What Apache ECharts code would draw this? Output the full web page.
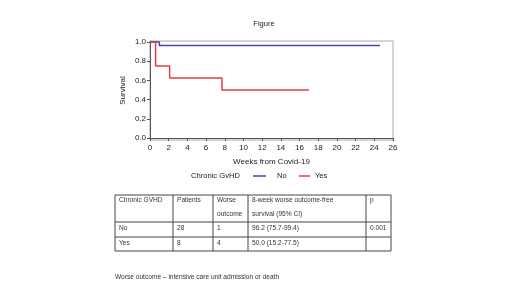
<!DOCTYPE html>
<html>
<head>
<meta charset="utf-8">
<script src="https://cdn.jsdelivr.net/npm/echarts@6/dist/echarts.min.js"></script>
<style>
  html, body { margin: 0; padding: 0; background: #fff; }
  #chart { width: 520px; height: 292px; }
</style>
</head>
<body>
<div id="chart"></div>
<script>
  // Kaplan-Meier curves (weeks, survival)
  const weeksNo = [0, 1.0, 24.6]
  const survNo = [1, 0.962, 0.962]
  const weeksYes = [0, 0.6, 2.1, 7.7, 17.0]
  const survYes = [1, 0.75, 0.625, 0.5, 0.5]
  const yTicks = [0, 0.2, 0.4, 0.6, 0.8, 1.0]

  // table below the plot
  const tableHead = [['Chronic GVHD'], ['Patients'], ['Worse', 'outcome'], ['8-week worse outcome-free', 'survival (95% CI)'], ['p']]
  const tableRows = [
    ['No', '28', '1', '96.2 (75.7-99.4)', '0.001'],
    ['Yes', '8', '4', '50.0 (15.2-77.5)', '']
  ]
  const footNote = 'Worse outcome \u2013 intensive care unit admission or death'

  const colX = [115, 173, 213, 248, 366, 391]
  const rowY = [195, 222, 237, 251]
  const tableFont = '6.6px "Liberation Sans", Arial, sans-serif'

  let graphics = []
  // grid lines of the table
  colX.forEach(function (x) {
    graphics.push({type: 'line', shape: {x1: x, y1: rowY[0], x2: x, y2: rowY[rowY.length - 1]}, style: {stroke: '#444', lineWidth: 1}})
  })
  rowY.forEach(function (y) {
    graphics.push({type: 'line', shape: {x1: colX[0], y1: y, x2: colX[colX.length - 1], y2: y}, style: {stroke: '#444', lineWidth: 1}})
  })
  tableHead.forEach(function (lines, c) {
    lines.forEach(function (t, i) {
      graphics.push({type: 'text', x: colX[c] + 4, y: rowY[0] + 5 + i * 14,
        style: {text: t, font: tableFont, fill: '#333', verticalAlign: 'middle'}})
    })
  })
  tableRows.forEach(function (row, r) {
    row.forEach(function (t, c) {
      graphics.push({type: 'text', x: colX[c] + 4, y: rowY[r + 1] + 6.5,
        style: {text: t, font: tableFont, fill: '#333', verticalAlign: 'middle'}})
    })
  })
  graphics.push({type: 'text', x: 115, y: 277, style: {text: footNote, font: tableFont, fill: '#333', verticalAlign: 'middle'}})
  graphics.push({type: 'text', x: 191, y: 176, style: {text: 'Chronic GvHD', font: '7.6px "Liberation Sans", Arial, sans-serif', fill: '#222', verticalAlign: 'middle'}})

  let myChart = echarts.init(document.getElementById('chart'))
  let axisText = {color: '#222', fontSize: 8, fontFamily: '"Liberation Sans", Arial, sans-serif'}
  let option = {
    animation: false,
    title: {
      text: 'Figure',
      left: 259,
      top: 15,
      textAlign: 'center',
      textStyle: {fontSize: 7.6, fontWeight: 'normal', color: '#222', fontFamily: '"Liberation Sans", Arial, sans-serif'}
    },
    grid: {
      left: 150,
      top: 41,
      width: 243,
      height: 99,
      show: true,
      borderColor: '#aaa',
      borderWidth: 1
    },
    legend: [
      {
        data: ['No'], left: 253, top: 172, padding: 0, icon: 'rect', itemWidth: 13, itemHeight: 1.5,
        textStyle: {color: '#222', fontSize: 7.6, padding: [0, 0, 0, 6], fontFamily: '"Liberation Sans", Arial, sans-serif'}
      },
      {
        data: ['Yes'], left: 299, top: 172, padding: 0, icon: 'rect', itemWidth: 11, itemHeight: 1.5,
        textStyle: {color: '#222', fontSize: 7.6, fontFamily: '"Liberation Sans", Arial, sans-serif'}
      }
    ],
    xAxis: {
      type: 'value',
      min: 0,
      max: 26,
      interval: 2,
      name: 'Weeks from Covid-19',
      nameLocation: 'middle',
      nameGap: 18,
      nameTextStyle: axisText,
      axisLine: {lineStyle: {color: '#555'}},
      axisTick: {length: 3, lineStyle: {color: '#555'}},
      axisLabel: Object.assign({margin: 4}, axisText),
      splitLine: {show: false}
    },
    yAxis: {
      type: 'value',
      min: -0.02,
      max: 1.01,
      name: 'Survival',
      nameLocation: 'middle',
      nameGap: 23,
      nameTextStyle: axisText,
      axisLine: {show: true, lineStyle: {color: '#555'}},
      axisTick: {show: true, length: 3, customValues: yTicks, lineStyle: {color: '#555'}},
      axisLabel: Object.assign({margin: 4, customValues: yTicks, formatter: function (v) { return v.toFixed(1) }}, axisText),
      splitLine: {show: false}
    },
    series: [
      {
        name: 'No',
        type: 'line',
        step: 'end',
        symbol: 'none',
        color: '#4343c4',
        lineStyle: {width: 1.5},
        data: weeksNo.map(function (w, i) { return [w, survNo[i]] })
      },
      {
        name: 'Yes',
        type: 'line',
        step: 'end',
        symbol: 'none',
        color: '#e2403f',
        lineStyle: {width: 1.5},
        data: weeksYes.map(function (w, i) { return [w, survYes[i]] })
      }
    ],
    graphic: graphics
  }
  myChart.setOption(option)
</script>
</body>
</html>
